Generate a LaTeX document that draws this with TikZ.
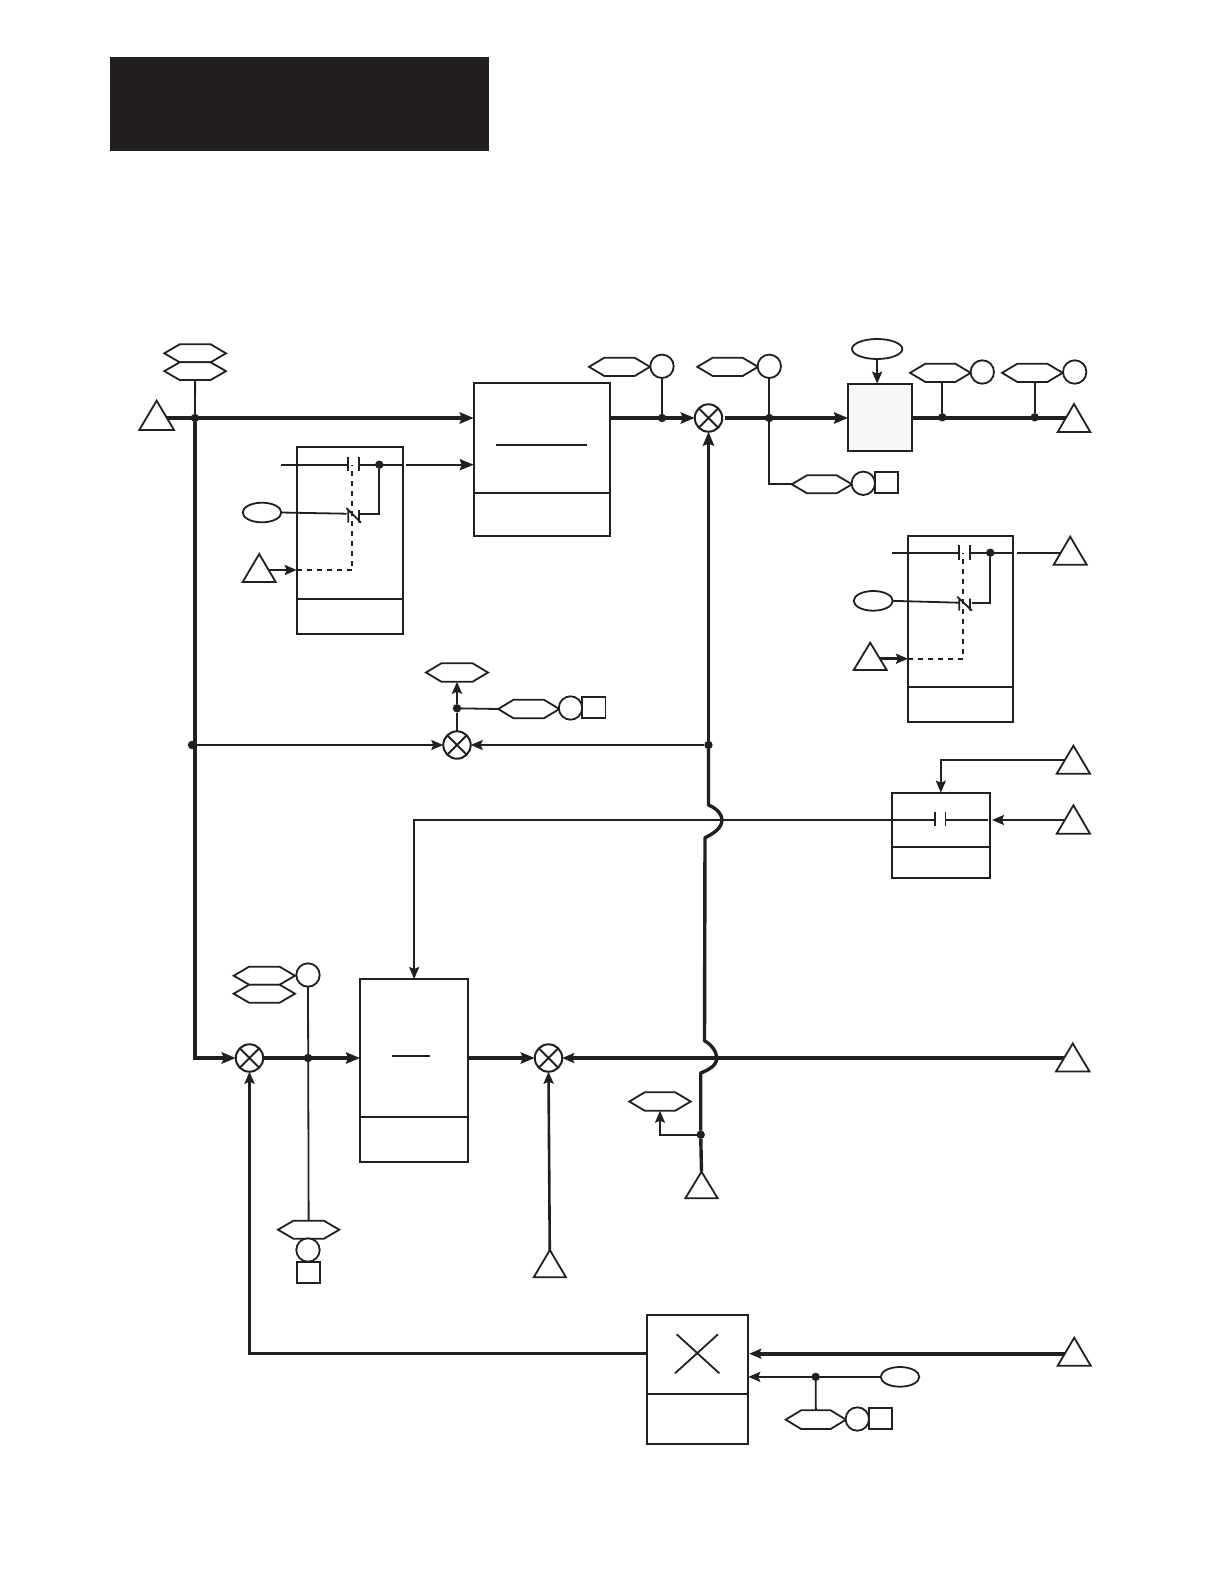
\documentclass[tikz,border=0pt]{standalone}
\usetikzlibrary{arrows.meta,shapes.geometric}
\definecolor{ink}{HTML}{231F20}
\definecolor{shadowc}{HTML}{989898}
\definecolor{panel}{HTML}{F6F6F6}
\makeatletter
\pgfdeclareshape{hexa}{%
  \inheritsavedanchors[from=rectangle]
  \inheritanchorborder[from=rectangle]
  \inheritanchor[from=rectangle]{center}
  \inheritanchor[from=rectangle]{north}
  \inheritanchor[from=rectangle]{south}
  \inheritanchor[from=rectangle]{east}
  \inheritanchor[from=rectangle]{west}
  \backgroundpath{%
    \southwest \edef\hxa{\the\pgf@x}\edef\hya{\the\pgf@y}%
    \northeast \edef\hxb{\the\pgf@x}\edef\hyb{\the\pgf@y}%
    \pgfpathmoveto{\pgfqpoint{\hxa}{\dimexpr(\hya+\hyb)/2\relax}}%
    \pgfpathlineto{\pgfqpoint{\dimexpr\hxa+7.7pt\relax}{\hyb}}%
    \pgfpathlineto{\pgfqpoint{\dimexpr\hxb-7.7pt\relax}{\hyb}}%
    \pgfpathlineto{\pgfqpoint{\hxb}{\dimexpr(\hya+\hyb)/2\relax}}%
    \pgfpathlineto{\pgfqpoint{\dimexpr\hxb-7.7pt\relax}{\hya}}%
    \pgfpathlineto{\pgfqpoint{\dimexpr\hxa+7.7pt\relax}{\hya}}%
    \pgfpathclose
  }%
}
\pgfdeclareshape{trian}{%
  \inheritsavedanchors[from=rectangle]
  \inheritanchorborder[from=rectangle]
  \inheritanchor[from=rectangle]{center}
  \inheritanchor[from=rectangle]{north}
  \inheritanchor[from=rectangle]{south}
  \inheritanchor[from=rectangle]{east}
  \inheritanchor[from=rectangle]{west}
  \backgroundpath{%
    \southwest \edef\hxa{\the\pgf@x}\edef\hya{\the\pgf@y}%
    \northeast \edef\hxb{\the\pgf@x}\edef\hyb{\the\pgf@y}%
    \pgfpathmoveto{\pgfqpoint{\hxa}{\hya}}%
    \pgfpathlineto{\pgfqpoint{\dimexpr(\hxa+\hxb)/2\relax}{\hyb}}%
    \pgfpathlineto{\pgfqpoint{\hxb}{\hya}}%
    \pgfpathclose
  }%
}
\makeatother
\pgfdeclarelayer{back}
\pgfdeclarelayer{fore}
\pgfsetlayers{back,main,fore}
\tikzset{
  base/.style={draw=ink,fill=white,line width=.9pt,inner sep=0pt,outer sep=0pt},
  hexn/.style={base,shape=hexa},
  trin/.style={base,shape=trian,line join=miter},
  rectn/.style={base,shape=rectangle},
  ovaln/.style={base,shape=ellipse},
  circn/.style={base,shape=circle,minimum size=11.7pt},
  sumn/.style={base,shape=circle,minimum size=13.7pt,line width=1pt,
    path picture={\draw[ink,line width=1pt]
      (path picture bounding box.north west)--(path picture bounding box.south east)
      (path picture bounding box.north east)--(path picture bounding box.south west);}},
  dotn/.style={shape=circle,fill=ink,minimum size=4.2pt,inner sep=0pt,outer sep=0pt},
  thk/.style={draw=ink,line width=2pt},
  trk/.style={draw=ink,line width=1.7pt},
  mid/.style={draw=ink,line width=1.3pt},
  thn/.style={draw=ink,line width=.9pt},
  dsh/.style={draw=ink,line width=.9pt,dash pattern=on 2.5pt off 2.5pt},
  bigtip/.style={-{Stealth[length=7pt,width=5.6pt,inset=1pt]}},
  midtip/.style={-{Stealth[length=6pt,width=5pt,inset=1pt]}},
}
\newcommand{\putnode}[6]{%
  \pgfmathsetmacro\cxx{(#3+#5)/2}\pgfmathsetmacro\cyy{(#4+#6)/2}%
  \pgfmathsetmacro\www{(#5-#3)/2}\pgfmathsetmacro\hhh{(#6-#4)/2}%
  \node[#1,minimum width=\www pt,minimum height=\hhh pt] (#2) at (\cxx,\cyy) {};}
\newcommand{\boxn}[6]{%
  \begin{pgfonlayer}{back}\fill[shadowc] (#2+10,#3+7) rectangle (#4+3,#5+3);\end{pgfonlayer}%
  \putnode{rectn}{#1}{#2}{#3}{#4}{#5}%
  \draw[thn] (#2+1,#6) -- (#4-1,#6);}
\newcommand{\nocontact}[4]{%
  \draw[thn] (#1,#3) -- (#1,#4) (#2,#3) -- (#2,#4);}
\newcommand{\nccontact}[4]{%
  \draw[thn] (#1,#3+2) -- (#1,#4) (#2,#3+2) -- (#2,#4) (#1-2,#3) -- (#2+2,#4);}
\begin{document}
\begin{tikzpicture}[x=.5pt,y=-.5pt]
\useasboundingbox (0,0) rectangle (1224,1584);
\fill[white] (0,0) rectangle (1224,1584);
\begin{pgfonlayer}{fore}
  % banner
  \node[fill=ink,inner sep=0pt,minimum width=189.5pt,minimum height=47pt] (banner) at (299.5,104) {};
  % hexagons
  \putnode{hexn}{h1a}{164.3}{344.3}{226}{362.3}
  \putnode{hexn}{h1b}{164.3}{362.3}{226}{380}
  \putnode{hexn}{hA}{589}{357.7}{650}{376}
  \putnode{hexn}{hB}{697.3}{357.7}{758}{376}
  \putnode{hexn}{hC}{791.7}{475.3}{852}{493.3}
  \putnode{hexn}{hD}{910}{363.7}{970.7}{382}
  \putnode{hexn}{hE}{1002}{363.7}{1062.7}{382}
  \putnode{hexn}{hT}{426}{663.3}{488}{681.7}
  \putnode{hexn}{hF}{498.2}{699.7}{559.3}{718.3}
  \putnode{hexn}{hG1}{233.7}{966.7}{295}{984.7}
  \putnode{hexn}{hG2}{233.7}{984.7}{295}{1002.7}
  \putnode{hexn}{hH}{278}{1220.7}{339.3}{1238.7}
  \putnode{hexn}{hK}{629.3}{1092.3}{690.7}{1110.7}
  \putnode{hexn}{hI}{785.7}{1410.3}{846}{1429}
  % circles and squares
  \node[circn] (cA) at (662,366.3) {};
  \node[circn] (cB) at (769.3,366.3) {};
  \node[circn] (cC) at (863.3,483.3) {};
  \node[circn] (cD) at (982.3,372) {};
  \node[circn] (cE) at (1074.7,372) {};
  \node[circn] (cF) at (570.5,708) {};
  \node[circn] (cG) at (308,975) {};
  \node[circn] (cH) at (308,1250) {};
  \node[circn] (cI) at (857.3,1419) {};
  \putnode{rectn}{sC}{875}{471.7}{898.3}{493.3}
  \putnode{rectn}{sF}{582}{696.7}{605.5}{718.3}
  \putnode{rectn}{sH}{296.7}{1261.7}{320.3}{1283}
  \putnode{rectn}{sI}{868.7}{1407.7}{892.3}{1429}
  % ovals
  \putnode{ovaln}{o2}{242.7}{502.7}{281.3}{522.3}
  \putnode{ovaln}{o3}{852}{339}{902.3}{359}
  \putnode{ovaln}{o4}{853.7}{591}{892.7}{610.7}
  \putnode{ovaln}{o7}{880.7}{1367}{919.3}{1386.7}
  % triangles
  \putnode{trin}{t1}{139.3}{400.7}{174}{430}
  \putnode{trin}{t2}{242.7}{554}{275.7}{582}
  \putnode{trin}{t3}{1057.7}{404}{1090.3}{432}
  \putnode{trin}{t4}{1053.7}{536.7}{1086.7}{564.7}
  \putnode{trin}{t4c}{853.7}{642.7}{886.7}{670}
  \putnode{trin}{t5a}{1056.8}{745.7}{1090}{773.7}
  \putnode{trin}{t5b}{1056.8}{805.3}{1090}{833.7}
  \putnode{trin}{t6}{1056}{1043.5}{1089.5}{1071.5}
  \putnode{trin}{t8}{685.3}{1171.7}{717.7}{1198.3}
  \putnode{trin}{t9}{533.7}{1250}{566}{1277.3}
  \putnode{trin}{t7}{1057.7}{1337.7}{1090.7}{1365.7}
  % boxes
  \boxn{bA}{473.7}{383.3}{610}{536}{492.7}
  \draw[thn] (496,444.7) -- (587,444.7);
  \boxn{b2}{296.7}{446.7}{402.7}{634}{598.7}
  \boxn{b4}{908}{536}{1012.7}{721.7}{686.7}
  \boxn{b5}{891.7}{792.7}{990}{877.7}{846.7}
  \boxn{b6}{360}{979}{468.3}{1161.7}{1117.3}
  \draw[thn] (392.3,1055.7) -- (430,1055.7);
  \boxn{b7}{646.7}{1315.3}{748.3}{1444}{1394}
  \draw[thn] (676.7,1334.3) -- (719.3,1373.3) (718,1334.3) -- (675,1373.3);
  \putnode{rectn,fill=panel}{b3}{848}{383.7}{912.3}{451}
  % summing junctions
  \node[sumn] (s1) at (708.5,418) {};
  \node[sumn] (s2) at (457,745) {};
  \node[sumn] (s3) at (249.5,1058) {};
  \node[sumn] (s4) at (548.5,1058) {};
  % junction dots and named free ends
  \node[dotn] (j1) at (195,418) {};
  \node[dotn] (jA) at (662,418) {};
  \node[dotn] (jB) at (769.3,418) {};
  \node[dotn] (jD) at (942.3,417.3) {};
  \node[dotn] (jE) at (1034.7,417.3) {};
  \node[dotn] (jL) at (192,745) {};
  \node[dotn] (jR) at (708.5,745) {};
  \node[dotn] (jT) at (457,708.3) {};
  \node[dotn] (jG) at (308,1058) {};
  \node[dotn] (jK) at (700.7,1134.7) {};
  \node[dotn] (j7) at (815.7,1376.85) {};
  \node[dotn] (d2) at (379.3,464.7) {};
  \node[dotn] (d4) at (990.3,552.7) {};
  \coordinate (a1) at (281,464.7);
  \coordinate (a2) at (348.3,464.7);
  \coordinate (a3) at (359,464.7);
  \coordinate (a4) at (402.7,464.7);
  \coordinate (a5) at (406,464.7);
  \coordinate (b1n) at (346.7,513.7);
  \coordinate (b2n) at (360,513.7);
  \coordinate (da) at (296.7,570);
  \coordinate (db) at (352.3,570);
  \coordinate (dc) at (352.3,465);
  \coordinate (e1) at (892,552.7);
  \coordinate (e2) at (959.3,552.7);
  \coordinate (e3) at (970,552.7);
  \coordinate (e4) at (1012.7,552.7);
  \coordinate (e5) at (1016.7,552.7);
  \coordinate (f1) at (959.3,602.7);
  \coordinate (f2) at (972,602.7);
  \coordinate (ga) at (908,658.7);
  \coordinate (gb) at (963.3,658.7);
  \coordinate (gc) at (963.3,553);
  \coordinate (k1) at (935.2,820);
  \coordinate (k2) at (945.5,820);
  \coordinate (k3) at (987.7,820);
  \coordinate (k4) at (992,820);
  \coordinate (m1) at (749.3,1353.7);
  \coordinate (m2) at (646.7,1353.7);
  % wiring inside box 2
  \draw[thn] (a1) -- (a2) (a3) -- (a4);
  \nocontact{348.3}{359}{456.7}{470.7}
  \draw[thn] (o2.east) -- (b1n);
  \draw[thn] (b2n) -- (b2n -| d2) -- (d2);
  \nccontact{348.3}{359}{508}{522.7}
  \draw[dsh] (da) -- (db) -- (dc);
  % wiring inside box 4
  \draw[thn] (e1) -- (e2) (e3) -- (e4);
  \nocontact{959.3}{970}{545}{560}
  \draw[thn] (o4.east) -- (f1);
  \draw[thn] (f2) -- (f2 -| d4) -- (d4);
  \nccontact{959.3}{970}{596.7}{610.7}
  \draw[dsh] (ga) -- (gb) -- (gc);
  % wiring inside box 5
  \draw[thn,midtip] (k1) -| (b6.north);
  \draw[thn] (k2) -- (k3);
  \nocontact{935.2}{945.5}{811.7}{826}
\end{pgfonlayer}
% connectors
\draw[thn] (h1b.south) -- (j1);
\draw[thk,bigtip] (t1.center |- j1) -- (bA.west |- j1);
\draw[thk,bigtip] (j1) |- (s3.west);
\draw[thk,bigtip] (bA.east |- j1) -- (s1.west);
\draw[thk,bigtip,shorten <=1.25pt] (s1.east) -- (b3.west |- s1);
\draw[thn] (cA.south) -- (jA);
\draw[thn] (cB.south) -- (jB);
\draw[thn] (jB) |- (hC.west);
\draw[thk] (b3.east |- s1) -- (t3.center |- s1);
\draw[thn] (jD) -- (jD |- hD.south);
\draw[thn] (jE) -- (jE |- hE.south);
\draw[mid,midtip] (o3.south) -- (o3.south |- b3.north);
\draw[thn,bigtip] (a5) -- (bA.west |- a5);
\draw[mid,midtip] (t2.center |- da) -- (da);
\draw[mid,midtip] (t4c.center |- ga) -- (ga);
\draw[thn] (e5) -- (t4.center |- e5);
\draw[thn] (jL) -- (j1 |- jL);
\draw[thn,midtip] (jL) -- (s2.west);
\draw[thn,midtip] (jR) -- (s2.east);
\draw[mid] (s2.north) -- (jT);
\draw[mid,midtip] (jT) -- (hT.south);
\draw[thn] (jT) -- (hF.west);
\draw[thn,midtip] (t5a.center) -| (b5.north);
\draw[thn,midtip] (t5b.center |- k4) -- (k4);
\draw[thn] (cG.south) -- (hH.north);
\draw[thk,bigtip] (s3.east) -- (b6.west |- s3);
\draw[thk,bigtip] (b6.east |- s4) -- (s4.west);
\draw[thk,midtip] (t6.center |- s4) -- (s4.east);
\draw[mid,midtip] (t9.center) -- (s4.south);
\draw[thn,midtip] (jK) -| (hK.south);
\draw[trk] (jK) -- (t8.north);
\draw[thk,midtip] (t7.center |- m1) -- (m1);
\draw[trk,midtip] (m2) -| (s3.south);
\draw[thn,midtip] (o7.west) -- (b7.east |- o7);
\draw[thn] (j7) -- (hI.north);
% main vertical with its two crossings
\draw[trk,line join=round,bigtip] (jR) -- (s1.south);
\draw[trk,line join=round] (jR) -- (708.5,805)
   .. controls (718,809) and (722,815) .. (722,820)
   .. controls (722,828) and (713,834) .. (705,837.7)
   -- (704.5,1040.7)
   .. controls (712,1045) and (716.7,1052) .. (716.7,1058)
   .. controls (716.7,1066) and (708,1070) .. (700.7,1073)
   -- (jK);
\end{tikzpicture}
\end{document}
